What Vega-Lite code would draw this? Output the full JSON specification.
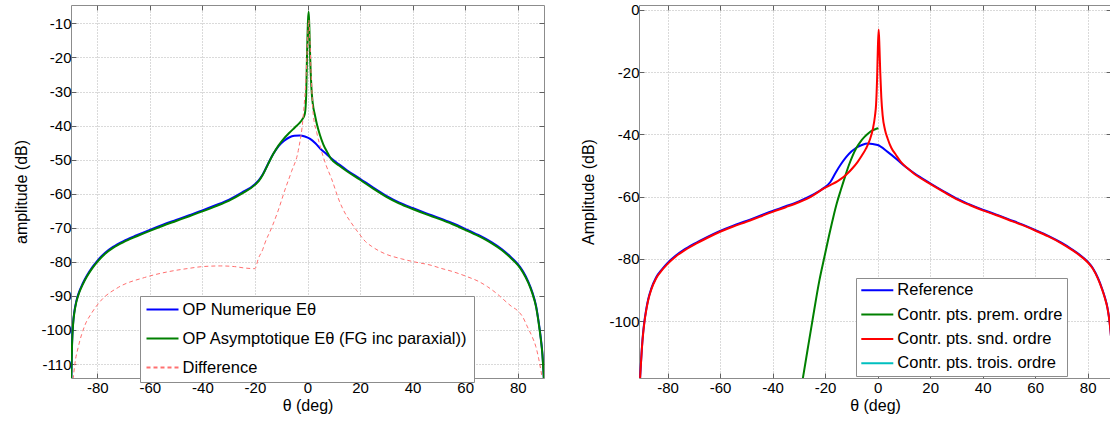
{
  "$schema": "https://vega.github.io/schema/vega-lite/v6.json",
  "background": "white",
  "padding": {"left": 12, "top": 2, "right": 0, "bottom": 0},
  "spacing": 95,
  "bounds": "flush",
  "config": {
    "font": "Liberation Sans",
    "view": {"stroke": "#8c8c8c", "strokeWidth": 1},
    "axis": {
      "labelFont": "Liberation Sans", "labelFontSize": 15, "labelColor": "#000000",
      "titleFont": "Liberation Sans", "titleFontSize": 16, "titleFontWeight": "normal", "titleColor": "#000000",
      "gridColor": "#b4b4b4", "gridDash": [1, 2], "gridWidth": 1, "gridOpacity": 1,
      "domain": false, "tickColor": "#606060", "tickSize": -5, "tickWidth": 1
    },
    "legend": {
      "labelFont": "Liberation Sans", "labelFontSize": 16.5, "labelColor": "#000000",
      "symbolType": "stroke", "symbolSize": 1024, "symbolStrokeWidth": 2, "clipHeight": 16,
      "labelOffset": 3, "strokeColor": "#8c8c8c", "fillColor": "white", "labelLimit": 0
    }
  },
  "resolve": {
    "scale": {"color": "independent", "strokeDash": "independent"},
    "legend": {"color": "independent", "strokeDash": "independent"}
  },
  "datasets": {
    "num": [
      {"t": -89.9, "a": -115}, {"t": -89.6, "a": -104}, {"t": -89.2, "a": -98}, {"t": -88.7, "a": -94.5},
      {"t": -88, "a": -91.6}, {"t": -87, "a": -89}, {"t": -85.5, "a": -86.3}, {"t": -84, "a": -84.1},
      {"t": -82, "a": -81.7}, {"t": -80, "a": -79.7}, {"t": -77, "a": -77.3}, {"t": -74, "a": -75.6},
      {"t": -70, "a": -73.9}, {"t": -65, "a": -72.2}, {"t": -60, "a": -70.6}, {"t": -55, "a": -69.1},
      {"t": -50, "a": -67.7}, {"t": -45, "a": -66.3}, {"t": -40, "a": -64.9}, {"t": -35, "a": -63.4},
      {"t": -30, "a": -61.8}, {"t": -25, "a": -59.7}, {"t": -20, "a": -57.2}, {"t": -18.5, "a": -56},
      {"t": -17, "a": -54.3}, {"t": -15, "a": -51.2}, {"t": -13, "a": -48.3}, {"t": -11, "a": -46},
      {"t": -9, "a": -44.5}, {"t": -7, "a": -43.5}, {"t": -5, "a": -43}, {"t": -3, "a": -42.9},
      {"t": -1, "a": -43.2}, {"t": 1, "a": -43.9}, {"t": 3, "a": -45.2}, {"t": 5, "a": -46.9},
      {"t": 7, "a": -48.2}, {"t": 9, "a": -49.6}, {"t": 12, "a": -51.4}, {"t": 15, "a": -53.1},
      {"t": 20, "a": -55.6}, {"t": 25, "a": -58.2}, {"t": 30, "a": -60.6}, {"t": 35, "a": -62.6},
      {"t": 40, "a": -64.2}, {"t": 45, "a": -65.7}, {"t": 50, "a": -67.1}, {"t": 55, "a": -68.6},
      {"t": 60, "a": -70.3}, {"t": 65, "a": -72.1}, {"t": 70, "a": -74.2}, {"t": 74, "a": -76.3},
      {"t": 77, "a": -78.3}, {"t": 80, "a": -80.6}, {"t": 82, "a": -82.8}, {"t": 84, "a": -85.8},
      {"t": 85.5, "a": -88.8}, {"t": 87, "a": -93}, {"t": 88, "a": -97.8}, {"t": 88.8, "a": -102.5},
      {"t": 89.4, "a": -107}, {"t": 89.8, "a": -112}, {"t": 90, "a": -115}
    ],
    "asy": [
      {"t": -89.9, "a": -115}, {"t": -89.6, "a": -104.3}, {"t": -89.2, "a": -98.3}, {"t": -88.7, "a": -94.8},
      {"t": -88, "a": -91.9}, {"t": -87, "a": -89.3}, {"t": -85.5, "a": -86.6}, {"t": -84, "a": -84.4},
      {"t": -82, "a": -82}, {"t": -80, "a": -80}, {"t": -77, "a": -77.6}, {"t": -74, "a": -75.9},
      {"t": -70, "a": -74.2}, {"t": -65, "a": -72.5}, {"t": -60, "a": -70.9}, {"t": -55, "a": -69.4},
      {"t": -50, "a": -68}, {"t": -45, "a": -66.6}, {"t": -40, "a": -65.2}, {"t": -35, "a": -63.7},
      {"t": -30, "a": -62.1}, {"t": -25, "a": -60}, {"t": -20, "a": -57.4}, {"t": -18.5, "a": -56.2},
      {"t": -17, "a": -54.4}, {"t": -15, "a": -51.3}, {"t": -13, "a": -48.3}, {"t": -11, "a": -45.8},
      {"t": -9, "a": -43.8}, {"t": -7, "a": -42.2}, {"t": -5, "a": -40.7}, {"t": -3, "a": -39.2},
      {"t": -2, "a": -38.2}, {"t": -1, "a": -36.5}, {"t": -0.5, "a": -31}, {"t": -0.2, "a": -20},
      {"t": 0.2, "a": -9}, {"t": 0.45, "a": -6.6}, {"t": 0.7, "a": -11}, {"t": 1, "a": -19.5},
      {"t": 1.5, "a": -29}, {"t": 2, "a": -33.5}, {"t": 2.8, "a": -36.8}, {"t": 3.7, "a": -40},
      {"t": 4.7, "a": -42.7}, {"t": 6, "a": -45.5}, {"t": 7.5, "a": -47.8}, {"t": 9, "a": -49.8},
      {"t": 12, "a": -51.7}, {"t": 15, "a": -53.4}, {"t": 20, "a": -55.9}, {"t": 25, "a": -58.5},
      {"t": 30, "a": -60.9}, {"t": 35, "a": -62.9}, {"t": 40, "a": -64.5}, {"t": 45, "a": -66},
      {"t": 50, "a": -67.4}, {"t": 55, "a": -68.9}, {"t": 60, "a": -70.6}, {"t": 65, "a": -72.4},
      {"t": 70, "a": -74.5}, {"t": 74, "a": -76.6}, {"t": 77, "a": -78.6}, {"t": 80, "a": -80.9},
      {"t": 82, "a": -83.1}, {"t": 84, "a": -86.1}, {"t": 85.5, "a": -89.1}, {"t": 87, "a": -93.3},
      {"t": 88, "a": -98.1}, {"t": 88.8, "a": -102.8}, {"t": 89.4, "a": -107.3}, {"t": 89.8, "a": -112.3},
      {"t": 90, "a": -115}
    ],
    "diff": [
      {"t": -89.2, "a": -114.5}, {"t": -88.5, "a": -109.8}, {"t": -87.2, "a": -104.9}, {"t": -84.7, "a": -98.6},
      {"t": -82.2, "a": -95.1}, {"t": -78.4, "a": -91.2}, {"t": -72, "a": -87.5}, {"t": -62, "a": -84.6},
      {"t": -53, "a": -82.9}, {"t": -45, "a": -81.9}, {"t": -40, "a": -81.4}, {"t": -33, "a": -81.2},
      {"t": -27.7, "a": -81.4}, {"t": -24, "a": -81.8}, {"t": -20, "a": -82}, {"t": -18.7, "a": -79},
      {"t": -17, "a": -76.3}, {"t": -16.2, "a": -74.5}, {"t": -13.7, "a": -70.1}, {"t": -11.1, "a": -64.8},
      {"t": -8.6, "a": -58.9}, {"t": -6.1, "a": -53.5}, {"t": -3.5, "a": -47.3}, {"t": -1.6, "a": -37},
      {"t": -0.5, "a": -25}, {"t": 0.2, "a": -12}, {"t": 0.5, "a": -9}, {"t": 0.9, "a": -15},
      {"t": 1.5, "a": -27}, {"t": 2.2, "a": -36.8}, {"t": 3.5, "a": -42}, {"t": 5.3, "a": -47.4},
      {"t": 7, "a": -51.5}, {"t": 9.1, "a": -55.5}, {"t": 12.3, "a": -62.5}, {"t": 14.5, "a": -66},
      {"t": 16.7, "a": -68.6}, {"t": 19.9, "a": -72}, {"t": 22, "a": -74}, {"t": 24.3, "a": -75.4},
      {"t": 29.4, "a": -77.6}, {"t": 35.7, "a": -79.1}, {"t": 40.6, "a": -80}, {"t": 47, "a": -81},
      {"t": 50.8, "a": -81.9}, {"t": 55, "a": -82.8}, {"t": 60.9, "a": -84.4}, {"t": 65, "a": -85.7},
      {"t": 68.5, "a": -87.3}, {"t": 72, "a": -89.3}, {"t": 74.8, "a": -91.2}, {"t": 77.5, "a": -93},
      {"t": 79.9, "a": -94.3}, {"t": 82, "a": -96.3}, {"t": 83.7, "a": -99.1}, {"t": 85.5, "a": -102},
      {"t": 86.9, "a": -104.9}, {"t": 88, "a": -108.5}, {"t": 88.8, "a": -111.8}, {"t": 89.4, "a": -114.5}
    ],
    "ref": [
      {"t": -90.6, "a": -120}, {"t": -90.2, "a": -114}, {"t": -89.8, "a": -108.6}, {"t": -89.3, "a": -103.5},
      {"t": -88.9, "a": -100.5}, {"t": -88.2, "a": -96.5}, {"t": -87.4, "a": -93}, {"t": -86.2, "a": -89.5},
      {"t": -84.4, "a": -86}, {"t": -82, "a": -83.2}, {"t": -80, "a": -81.3}, {"t": -77, "a": -79},
      {"t": -74, "a": -77.2}, {"t": -70, "a": -75.2}, {"t": -65, "a": -73}, {"t": -60, "a": -71},
      {"t": -55, "a": -69.3}, {"t": -50, "a": -67.8}, {"t": -45, "a": -66.2}, {"t": -40, "a": -64.6},
      {"t": -35, "a": -63.1}, {"t": -30, "a": -61.5}, {"t": -25, "a": -59.5}, {"t": -20.3, "a": -57.1},
      {"t": -18, "a": -55.3}, {"t": -16, "a": -52.3}, {"t": -14, "a": -49.6}, {"t": -12, "a": -47.3},
      {"t": -10, "a": -45.5}, {"t": -8, "a": -44.2}, {"t": -6, "a": -43.4}, {"t": -3.8, "a": -42.9},
      {"t": 0, "a": -43.4}, {"t": 3.8, "a": -45.6}, {"t": 7.6, "a": -48.2}, {"t": 10, "a": -50},
      {"t": 14, "a": -52.5}, {"t": 20, "a": -55.7}, {"t": 25, "a": -58.2}, {"t": 30, "a": -60.6},
      {"t": 35, "a": -62.5}, {"t": 40, "a": -64.2}, {"t": 45, "a": -65.7}, {"t": 50, "a": -67.3},
      {"t": 55, "a": -68.9}, {"t": 60, "a": -70.7}, {"t": 65, "a": -72.6}, {"t": 70, "a": -74.8},
      {"t": 74, "a": -76.9}, {"t": 77, "a": -78.7}, {"t": 80, "a": -80.9}, {"t": 82, "a": -83},
      {"t": 84, "a": -86.3}, {"t": 85.5, "a": -89.6}, {"t": 86.5, "a": -92.2}, {"t": 87.6, "a": -95.9},
      {"t": 88.4, "a": -100.5}, {"t": 89, "a": -106}, {"t": 89.5, "a": -114}, {"t": 89.8, "a": -120}
    ],
    "prem": [
      {"t": -28.6, "a": -119}, {"t": -26.7, "a": -109.3}, {"t": -24.8, "a": -99.7}, {"t": -22.2, "a": -87},
      {"t": -20.3, "a": -79.5}, {"t": -18.5, "a": -72.5}, {"t": -17, "a": -67}, {"t": -15.5, "a": -62},
      {"t": -14, "a": -57.8}, {"t": -12.5, "a": -53.8}, {"t": -11, "a": -50}, {"t": -9.5, "a": -46.8},
      {"t": -8, "a": -44.2}, {"t": -6.5, "a": -42.3}, {"t": -5, "a": -40.8}, {"t": -3.5, "a": -39.6},
      {"t": -2, "a": -38.7}, {"t": -0.5, "a": -38.2}, {"t": 0.3, "a": -38}
    ],
    "snd": [
      {"t": -90.6, "a": -120}, {"t": -90.2, "a": -114.3}, {"t": -89.8, "a": -108.9}, {"t": -89.3, "a": -103.8},
      {"t": -88.9, "a": -100.8}, {"t": -88.2, "a": -96.8}, {"t": -87.4, "a": -93.3}, {"t": -86.2, "a": -89.8},
      {"t": -84.4, "a": -86.3}, {"t": -82, "a": -83.5}, {"t": -80, "a": -81.6}, {"t": -77, "a": -79.3},
      {"t": -74, "a": -77.5}, {"t": -70, "a": -75.5}, {"t": -65, "a": -73.3}, {"t": -60, "a": -71.3},
      {"t": -55, "a": -69.6}, {"t": -50, "a": -68.1}, {"t": -45, "a": -66.5}, {"t": -40, "a": -64.9},
      {"t": -35, "a": -63.4}, {"t": -30, "a": -61.8}, {"t": -25, "a": -59.8}, {"t": -20.3, "a": -57.3},
      {"t": -18, "a": -56.3}, {"t": -15.2, "a": -55}, {"t": -13, "a": -53.7}, {"t": -11.4, "a": -52.5},
      {"t": -9.5, "a": -50.8}, {"t": -7.6, "a": -48.8}, {"t": -6, "a": -46.8}, {"t": -4.4, "a": -44.5},
      {"t": -3, "a": -41.8}, {"t": -1.9, "a": -38.6}, {"t": -1, "a": -34}, {"t": -0.6, "a": -30.5},
      {"t": -0.2, "a": -22}, {"t": 0.1, "a": -12}, {"t": 0.4, "a": -6.3}, {"t": 0.7, "a": -12},
      {"t": 1, "a": -20}, {"t": 1.4, "a": -28}, {"t": 1.9, "a": -33.8}, {"t": 2.8, "a": -38.5},
      {"t": 3.8, "a": -41.3}, {"t": 5.2, "a": -44.3}, {"t": 7, "a": -46.6}, {"t": 9, "a": -49},
      {"t": 11.4, "a": -50.9}, {"t": 14, "a": -52.7}, {"t": 20, "a": -55.9}, {"t": 25, "a": -58.4},
      {"t": 30, "a": -60.8}, {"t": 35, "a": -62.7}, {"t": 40, "a": -64.4}, {"t": 45, "a": -65.9},
      {"t": 50, "a": -67.5}, {"t": 55, "a": -69.1}, {"t": 60, "a": -70.9}, {"t": 65, "a": -72.8},
      {"t": 70, "a": -75}, {"t": 74, "a": -77.1}, {"t": 77, "a": -78.9}, {"t": 80, "a": -81.1},
      {"t": 82, "a": -83.2}, {"t": 84, "a": -86.5}, {"t": 85.5, "a": -89.8}, {"t": 86.5, "a": -92.4},
      {"t": 87.6, "a": -96.1}, {"t": 88.4, "a": -100.7}, {"t": 89, "a": -106.2}, {"t": 89.5, "a": -114.2},
      {"t": 89.8, "a": -120}
    ]
  },
  "hconcat": [
    {
      "width": 473,
      "height": 373,
      "resolve": {"axis": {"x": "independent", "y": "independent"}},
      "layer": [
        {
          "data": {"name": "num"},
          "mark": {"type": "line", "clip": true, "strokeWidth": 2, "interpolate": "monotone"},
          "encoding": {
            "x": {"field": "t", "type": "quantitative",
              "scale": {"domain": [-90, 90], "nice": false, "zero": false},
              "axis": {"values": [-80, -60, -40, -20, 0, 20, 40, 60, 80], "title": "θ (deg)", "grid": true,
                "labelExpr": "toString(datum.value)", "labelPadding": 7, "titlePadding": 2}},
            "y": {"field": "a", "type": "quantitative",
              "scale": {"domain": [-114.1, -4.6], "nice": false, "zero": false},
              "axis": {"values": [-110, -100, -90, -80, -70, -60, -50, -40, -30, -20, -10], "title": "amplitude (dB)", "grid": true,
                "labelExpr": "toString(datum.value)", "labelPadding": 5, "titleX": -50, "titleBaseline": "middle"}},
            "color": {"datum": "OP Numerique Eθ",
              "scale": {"domain": ["OP Numerique Eθ", "OP Asymptotique Eθ (FG inc paraxial))", "Difference"], "range": ["#0000ff", "#008000", "#ff7070"]},
              "legend": {"orient": "none", "legendX": 69, "legendY": 291, "padding": 5.5, "rowPadding": 12, "title": null}}
          }
        },
        {
          "data": {"name": "asy"},
          "mark": {"type": "line", "clip": true, "strokeWidth": 2, "interpolate": "monotone"},
          "encoding": {
            "x": {"field": "t", "type": "quantitative", "axis": null},
            "y": {"field": "a", "type": "quantitative", "axis": null},
            "color": {"datum": "OP Asymptotique Eθ (FG inc paraxial))"}
          }
        },
        {
          "data": {"name": "diff"},
          "mark": {"type": "line", "clip": true, "strokeWidth": 1, "interpolate": "monotone"},
          "encoding": {
            "x": {"field": "t", "type": "quantitative",
              "axis": {"orient": "top", "labels": false, "title": null, "grid": false, "values": [-80, -60, -40, -20, 0, 20, 40, 60, 80]}},
            "y": {"field": "a", "type": "quantitative",
              "axis": {"orient": "right", "labels": false, "title": null, "grid": false, "values": [-110, -100, -90, -80, -70, -60, -50, -40, -30, -20, -10]}},
            "color": {"datum": "Difference"},
            "strokeDash": {"datum": "Difference",
              "scale": {"domain": ["OP Numerique Eθ", "OP Asymptotique Eθ (FG inc paraxial))", "Difference"], "range": [[1, 0], [1, 0], [4, 3]]},
              "legend": {"orient": "none", "legendX": 69, "legendY": 291, "padding": 5.5, "rowPadding": 12, "title": null}}
          }
        }
      ]
    },
    {
      "width": 472,
      "height": 373,
      "resolve": {"axis": {"x": "independent", "y": "independent"}},
      "layer": [
        {
          "data": {"name": "ref"},
          "mark": {"type": "line", "clip": true, "strokeWidth": 2, "interpolate": "monotone"},
          "encoding": {
            "x": {"field": "t", "type": "quantitative",
              "scale": {"domain": [-90.9, 88.9], "nice": false, "zero": false},
              "axis": {"values": [-80, -60, -40, -20, 0, 20, 40, 60, 80], "title": "θ (deg)", "grid": true,
                "labelExpr": "toString(datum.value)", "labelPadding": 7, "titlePadding": 2}},
            "y": {"field": "a", "type": "quantitative",
              "scale": {"domain": [-118.3, 1.6], "nice": false, "zero": false},
              "axis": {"values": [-100, -80, -60, -40, -20, 0], "title": "Amplitude (dB)", "grid": true,
                "labelExpr": "toString(datum.value)", "labelPadding": 5, "titleX": -51, "titleBaseline": "middle"}},
            "color": {"datum": "Reference",
              "scale": {"domain": ["Reference", "Contr. pts. prem. ordre", "Contr. pts. snd. ordre", "Contr. pts. trois. ordre"], "range": ["#0000ff", "#008000", "#ff0000", "#00bfbf"]},
              "legend": {"orient": "none", "legendX": 217, "legendY": 273, "padding": 4.3, "rowPadding": 7.3, "title": null}}
          }
        },
        {
          "data": {"name": "prem"},
          "mark": {"type": "line", "clip": true, "strokeWidth": 2, "interpolate": "monotone"},
          "encoding": {
            "x": {"field": "t", "type": "quantitative", "axis": null},
            "y": {"field": "a", "type": "quantitative", "axis": null},
            "color": {"datum": "Contr. pts. prem. ordre"}
          }
        },
        {
          "data": {"name": "snd"},
          "mark": {"type": "line", "clip": true, "strokeWidth": 2, "interpolate": "monotone"},
          "encoding": {
            "x": {"field": "t", "type": "quantitative",
              "axis": {"orient": "top", "labels": false, "title": null, "grid": false, "values": [-80, -60, -40, -20, 0, 20, 40, 60, 80]}},
            "y": {"field": "a", "type": "quantitative",
              "axis": {"orient": "right", "labels": false, "title": null, "grid": false, "values": [-100, -80, -60, -40, -20, 0]}},
            "color": {"datum": "Contr. pts. snd. ordre"}
          }
        }
      ]
    }
  ]
}
